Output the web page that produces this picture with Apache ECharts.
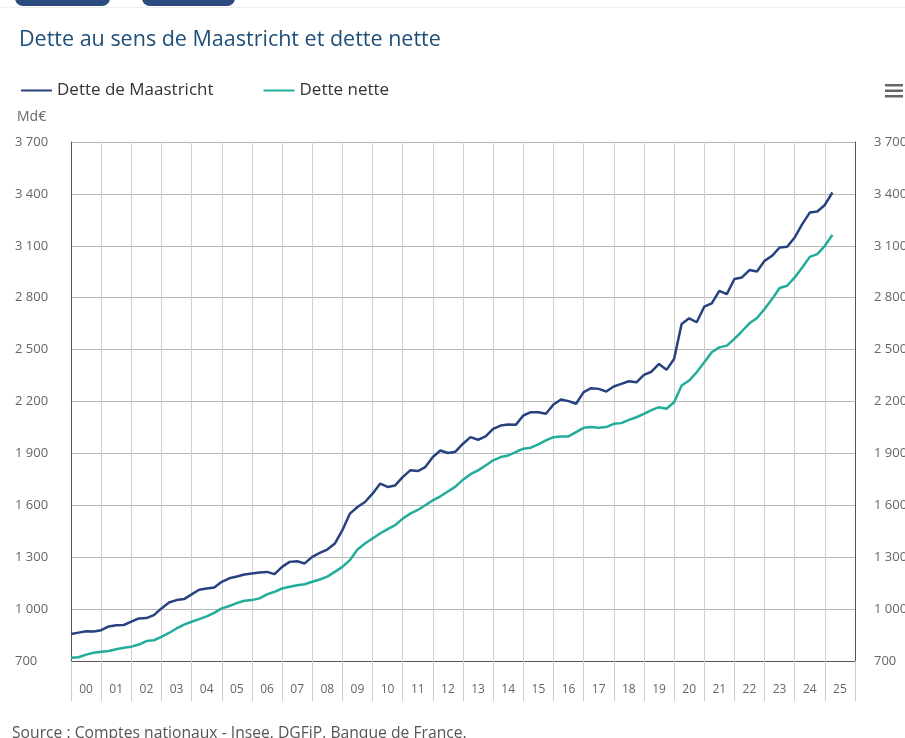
<!DOCTYPE html>
<html>
<head>
<meta charset="utf-8">
<script src="https://cdn.jsdelivr.net/npm/echarts@6/dist/echarts.min.js"></script>
<style>
  html, body { margin: 0; padding: 0; background: #fff; }
  #chart { width: 905px; height: 738px; }
</style>
</head>
<body>
<div id="chart"></div>
<script>
// years shown on the x axis (one band per year)
const years = ['00', '01', '02', '03', '04', '05', '06', '07', '08', '09', '10', '11', '12',
  '13', '14', '15', '16', '17', '18', '19', '20', '21', '22', '23', '24', '25']

// quarterly values, Md€, from 2000 Q1 to 2025 Q2
const maastricht = [
  856, 864, 872, 870,
  878, 900, 906, 908,
  927, 946, 948, 965,
  1004, 1038, 1052, 1058,
  1085, 1112, 1119, 1125,
  1158, 1178, 1188, 1200,
  1206, 1212, 1215, 1202,
  1244, 1273, 1277, 1264,
  1302, 1325, 1344, 1379,
  1456, 1552, 1590, 1619,
  1667, 1725, 1706, 1715,
  1763, 1802, 1798, 1821,
  1879, 1917, 1902, 1910,
  1956, 1994, 1979, 1998,
  2042, 2061, 2067, 2065,
  2119, 2138, 2138, 2129,
  2183, 2212, 2202, 2187,
  2254, 2277, 2273, 2258,
  2287, 2302, 2317, 2311,
  2354, 2372, 2417, 2383,
  2446, 2648, 2681, 2658,
  2748, 2767, 2840, 2821,
  2908, 2917, 2960, 2952,
  3013, 3042, 3090, 3094,
  3148, 3225, 3292, 3298,
  3336, 3408
]

const detteNette = [
  719, 722, 737, 748,
  754, 758, 768, 776,
  783, 795, 815, 820,
  840, 862, 888, 910,
  927, 942, 958, 978,
  1004, 1018, 1035, 1048,
  1052, 1062, 1085, 1100,
  1119, 1129, 1138, 1144,
  1158, 1171, 1188, 1215,
  1244, 1283, 1345, 1379,
  1408, 1437, 1462, 1485,
  1523, 1552, 1573, 1600,
  1629, 1652, 1680, 1708,
  1748, 1780, 1802, 1830,
  1860, 1879, 1888, 1908,
  1927, 1933, 1952, 1975,
  1994, 1998, 1998, 2023,
  2048, 2052, 2048, 2052,
  2071, 2075, 2094, 2109,
  2129, 2150, 2167, 2158,
  2196, 2292, 2321, 2369,
  2427, 2485, 2513, 2523,
  2562, 2606, 2652, 2683,
  2735, 2792, 2856, 2869,
  2917, 2975, 3036, 3052,
  3100, 3163
]

const yTicks = { min: 700, max: 3700, step: 300 }

const fontFamily = '"Open Sans", "Noto Sans", sans-serif'

// quarter i sits at 2000 + i/4 on the hidden value axis
function toPoints(values) {
  return values.map((v, i) => [2000 + i / 4, v])
}

function fmt(v) {
  return String(v).replace(/\B(?=(\d{3})+(?!\d))/g, ' ')
}

const chart = echarts.init(document.getElementById('chart'))

chart.setOption({
  animation: false,
  backgroundColor: '#fff',
  textStyle: { fontFamily: fontFamily },
  title: {
    text: 'Dette au sens de Maastricht et dette nette',
    left: 14,
    top: 24,
    textStyle: {
      color: '#1f4e79',
      fontSize: 21.5,
      fontWeight: 'normal',
      fontFamily: fontFamily
    }
  },
  legend: {
    left: 16,
    top: 77,
    icon: 'rect',
    itemWidth: 31,
    itemHeight: 2,
    itemGap: 50,
    textStyle: { color: '#333', fontSize: 17, fontFamily: fontFamily },
    data: ['Dette de Maastricht', 'Dette nette']
  },
  graphic: [
    // bottoms of the page buttons above the title
    { type: 'rect', shape: { x: 15, y: -20, width: 95, height: 26, r: 8 }, style: { fill: '#2b4a80' } },
    { type: 'rect', shape: { x: 142, y: -20, width: 93, height: 26, r: 8 }, style: { fill: '#2b4a80' } },
    { type: 'rect', shape: { x: 0, y: 7, width: 905, height: 1 }, style: { fill: '#eeeeee' } },
    // menu icon
    { type: 'rect', shape: { x: 885, y: 84, width: 18, height: 2.5 }, style: { fill: '#666' } },
    { type: 'rect', shape: { x: 885, y: 89.5, width: 18, height: 2.5 }, style: { fill: '#666' } },
    { type: 'rect', shape: { x: 885, y: 95, width: 18, height: 2.5 }, style: { fill: '#666' } },
    {
      type: 'text', left: 17, top: 110,
      style: { text: 'Md€', fill: '#666', fontSize: 14, fontFamily: fontFamily }
    },
    {
      type: 'text', left: 12, top: 726,
      style: {
        text: 'Source : Comptes nationaux - Insee, DGFiP, Banque de France.',
        fill: '#555', fontSize: 15.7, fontFamily: fontFamily
      }
    }
  ],
  grid: {
    left: 71,
    right: 50,
    top: 142,
    bottom: 77,
    containLabel: false,
    outerBoundsMode: 'none'
  },
  xAxis: [
    {
      type: 'category',
      data: years,
      boundaryGap: true,
      axisLine: { show: true, lineStyle: { color: '#555', width: 1 } },
      axisTick: { show: true, interval: 0, length: 40, lineStyle: { color: '#ccc' } },
      axisLabel: { interval: 0, color: '#666', fontSize: 12, margin: 23, fontFamily: fontFamily },
      splitLine: { show: true, interval: 0, lineStyle: { color: '#d0d0d0', width: 1 } }
    },
    {
      type: 'value',
      min: 2000,
      max: 2026,
      show: false,
      splitLine: { show: false }
    }
  ],
  yAxis: [
    {
      type: 'value',
      position: 'left',
      min: yTicks.min,
      max: yTicks.max,
      interval: yTicks.step,
      axisLine: { show: true, lineStyle: { color: '#555' } },
      axisTick: { show: false },
      axisLabel: {
        color: '#666', fontSize: 13, align: 'left', margin: 56,
        fontFamily: fontFamily, formatter: fmt
      },
      splitLine: { show: true, lineStyle: { color: '#b8b8b8', width: 1 } }
    },
    {
      type: 'value',
      position: 'right',
      min: yTicks.min,
      max: yTicks.max,
      interval: yTicks.step,
      axisLine: { show: true, lineStyle: { color: '#555' } },
      axisTick: { show: false },
      axisLabel: {
        color: '#666', fontSize: 13, align: 'left', margin: 19,
        fontFamily: fontFamily, formatter: fmt
      },
      splitLine: { show: false }
    }
  ],
  series: [
    {
      name: 'Dette de Maastricht',
      type: 'line',
      xAxisIndex: 1,
      yAxisIndex: 0,
      data: toPoints(maastricht),
      symbol: 'none',
      lineStyle: { color: '#27427f', width: 2.5 },
      itemStyle: { color: '#27427f' }
    },
    {
      name: 'Dette nette',
      type: 'line',
      xAxisIndex: 1,
      yAxisIndex: 0,
      data: toPoints(detteNette),
      symbol: 'none',
      lineStyle: { color: '#22ad9b', width: 2.5 },
      itemStyle: { color: '#22ad9b' }
    }
  ]
})
</script>
</body>
</html>
